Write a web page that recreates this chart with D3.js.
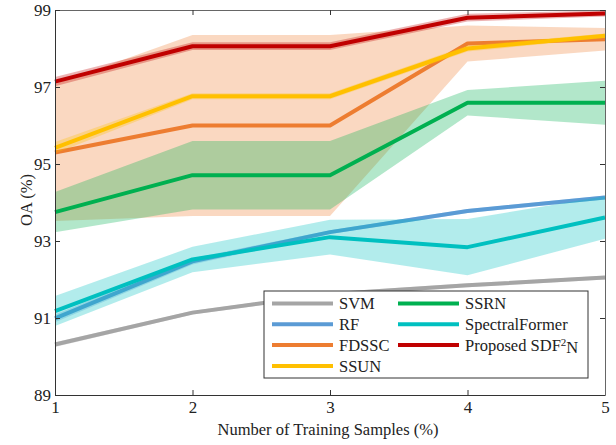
<!DOCTYPE html>
<meta charset="utf-8">
<style>
body { margin: 0; background: #fff; }
svg text { font-family: "Liberation Serif", "Times New Roman", serif; fill: #222; }
.line { fill: none; stroke-width: 4px; stroke-linejoin: round; }
.band { stroke: none; }
</style>
<svg width="616" height="445"></svg>
<script src="https://cdn.jsdelivr.net/npm/d3@7"></script>
<script>
// training sample percentages
var samples = [1, 2, 3, 4, 5];

// mean OA per method
var svm = [90.31, 91.14, 91.62, 91.85, 92.05];
var rf = [90.99, 92.47, 93.23, 93.78, 94.13];
var fdssc = [95.30, 96.00, 96.00, 98.13, 98.24];
var ssun = [95.42, 96.76, 96.76, 98.00, 98.33];
var ssrn = [93.75, 94.71, 94.71, 96.59, 96.59];
var spectralFormer = [91.18, 92.52, 93.10, 92.84, 93.61];
var sdf2n = [97.14, 98.06, 98.06, 98.80, 98.91];

// half width of the shaded band
var svmSd = [0.06, 0.05, 0.05, 0.05, 0.05];
var rfSd = [0.10, 0.08, 0.05, 0.05, 0.05];
var fdsscSd = [1.78, 2.35, 2.35, 0.47, 0.29];
var ssunSd = [0.15, 0.08, 0.08, 0.08, 0.06];
var ssrnSd = [0.52, 0.89, 0.89, 0.33, 0.57];
var spectralFormerSd = [0.39, 0.33, 0.45, 0.73, 0.55];
var sdf2nSd = [0.12, 0.10, 0.10, 0.10, 0.08];

var yTicks = [89, 91, 93, 95, 97, 99];

var series = [
  {name: "SVM", mean: svm, sd: svmSd, color: "#a5a5a5"},
  {name: "RF", mean: rf, sd: rfSd, color: "#5b9bd5"},
  {name: "FDSSC", mean: fdssc, sd: fdsscSd, color: "#ed7d31"},
  {name: "SSUN", mean: ssun, sd: ssunSd, color: "#ffc000"},
  {name: "SSRN", mean: ssrn, sd: ssrnSd, color: "#00b050"},
  {name: "SpectralFormer", mean: spectralFormer, sd: spectralFormerSd, color: "#00c0c0"},
  {name: "Proposed SDF2N", mean: sdf2n, sd: sdf2nSd, color: "#c00000"}
];

var svg = d3.select("svg"),
    margin = {top: 10, right: 11, bottom: 50, left: 55},
    width = +svg.attr("width") - margin.left - margin.right,
    height = +svg.attr("height") - margin.top - margin.bottom,
    g = svg.append("g").attr("transform", "translate(" + margin.left + "," + margin.top + ")");

var x = d3.scaleLinear().domain([1, 5]).range([0, width]);
var y = d3.scaleLinear().domain([89, 99]).range([height, 0]);

var line = d3.line()
    .x(function(d, i) { return x(samples[i]); })
    .y(function(d) { return y(d); });

var area = d3.area()
    .x(function(d, i) { return x(samples[i]); })
    .y0(function(d) { return y(d[0] - d[1]); })
    .y1(function(d) { return y(d[0] + d[1]); });

// band then line, series by series
series.forEach(function(s) {
  var pairs = s.mean.map(function(m, i) { return [m, s.sd[i]]; });
  g.append("path")
    .attr("class", "band")
    .attr("d", area(pairs))
    .attr("fill", s.color)
    .attr("fill-opacity", 0.3);
  g.append("path")
    .attr("class", "line")
    .attr("d", line(s.mean))
    .attr("stroke", s.color);
});

// axes, matlab style box with inward ticks
var axisColor = "#333";
var fmt = d3.format("d");
var axBottom = g.append("g").attr("transform", "translate(0," + height + ")")
    .call(d3.axisBottom(x).tickValues(samples).tickFormat(fmt).tickSizeInner(-5).tickSizeOuter(0).tickPadding(6));
var axTop = g.append("g")
    .call(d3.axisTop(x).tickValues(samples).tickFormat("").tickSizeInner(-5).tickSizeOuter(0));
var axLeft = g.append("g")
    .call(d3.axisLeft(y).tickValues(yTicks).tickFormat(fmt).tickSizeInner(-5).tickSizeOuter(0).tickPadding(4));
var axRight = g.append("g").attr("transform", "translate(" + width + ",0)")
    .call(d3.axisRight(y).tickValues(yTicks).tickFormat("").tickSizeInner(-5).tickSizeOuter(0));

[axBottom, axTop, axLeft, axRight].forEach(function(a) {
  a.selectAll("path, line").attr("stroke", axisColor);
  a.selectAll("text").attr("fill", "#222").style("font-size", "17px")
    .style("font-family", "'Liberation Serif', serif");
});
axTop.select(".domain").attr("stroke", "#666");
axRight.select(".domain").attr("stroke", "#666");

svg.append("text")
  .attr("x", 328)
  .attr("y", 435)
  .attr("text-anchor", "middle")
  .style("font-size", "16.5px")
  .text("Number of Training Samples (%)");

svg.append("text")
  .attr("transform", "translate(32,200) rotate(-90)")
  .attr("text-anchor", "middle")
  .style("font-size", "16.5px")
  .text("OA (%)");

// legend
var lg = svg.append("g").attr("transform", "translate(264,291)");
lg.append("rect")
  .attr("width", 324)
  .attr("height", 87)
  .attr("fill", "#fff")
  .attr("stroke", "#333")
  .attr("stroke-width", 1);

series.forEach(function(s, i) {
  var col = i < 4 ? 0 : 1,
      row = i < 4 ? i : i - 4;
  var item = lg.append("g").attr("transform", "translate(" + (col * 126) + "," + (12.5 + row * 20.8) + ")");
  item.append("line")
    .attr("x1", 8).attr("x2", 69)
    .attr("stroke", s.color)
    .attr("stroke-width", 4);
  var t = item.append("text")
    .attr("x", 75)
    .attr("dy", "0.35em")
    .style("font-size", "16.5px");
  if (s.name === "Proposed SDF2N") {
    t.append("tspan").text("Proposed SDF");
    t.append("tspan").attr("dy", "-0.4em").style("font-size", "11px").text("2");
    t.append("tspan").attr("dy", "0.4em").text("N");
  } else {
    t.text(s.name);
  }
});
</script>
